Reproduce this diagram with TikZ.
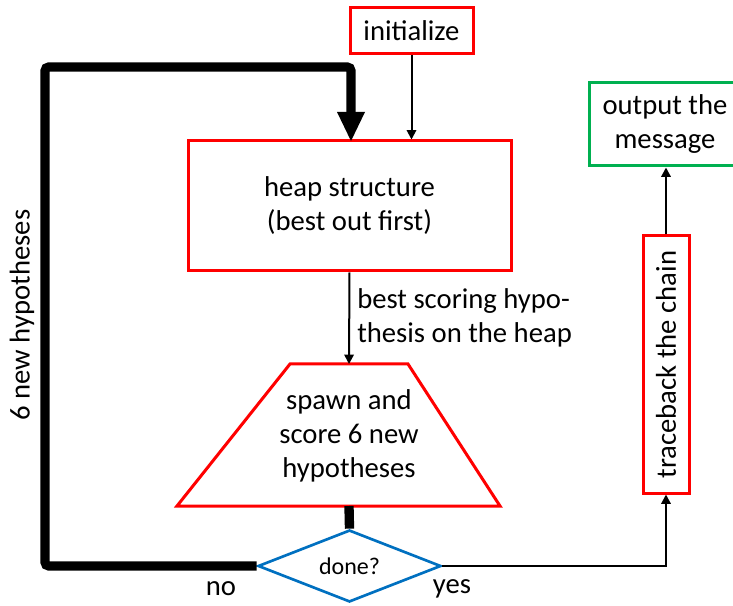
\documentclass[tikz,border=0pt]{standalone}
\usepackage{fontspec}
\setmainfont{Carlito}
\usetikzlibrary{shapes.geometric,arrows.meta}
\definecolor{cred}{RGB}{255,0,0}
\definecolor{cgreen}{RGB}{0,176,80}
\definecolor{cblue}{RGB}{0,112,192}
\tikzset{
  txt/.style={font=\fontsize{21.5}{25.5}\selectfont, align=center, inner sep=0pt},
  redbox/.style={txt, draw=cred, line width=2.25pt, rectangle},
  greenbox/.style={txt, draw=cgreen, line width=2.25pt, rectangle},
  thinarrow/.style={line width=1.5pt, -{Triangle[width=7pt,length=7pt]}},
  thickline/.style={line width=7pt, rounded corners=3pt},
}
\begin{document}
\begin{tikzpicture}[x=0.75pt,y=-0.75pt]
\useasboundingbox (0,0) rectangle (733,606);
% nodes
\node[redbox, minimum width=92.25pt, minimum height=34.5pt] (init) at (411.5,31) {initialize};
\node[redbox, minimum width=242.25pt, minimum height=97.5pt] (heap) at (349.5,206) {heap structure\\(best out first)};
\node[greenbox, minimum width=114pt, minimum height=62.25pt] (out) at (665,124.5) {output the\\message};
\node[redbox, rotate=90, minimum width=192.75pt, minimum height=34.5pt] (trace) at (666,364.5) {traceback the chain};
% trapezoid
\coordinate (tl) at (290,364);
\coordinate (tr) at (408,364);
\coordinate (br) at (500,506);
\coordinate (bl) at (177,506);
\coordinate (sptop) at (349,364);
\coordinate (spbot) at (349,506);
\draw[cred, line width=2.25pt, line join=miter] (tl) -- (tr) -- (br) -- (bl) -- cycle;
\node[txt] (spawn) at (349,436) {spawn and\\score 6 new\\hypotheses};
% diamond
\node[diamond, draw=cblue, line width=2pt, inner sep=0pt, minimum width=137.25pt, minimum height=54pt, aspect=2.5, font=\fontsize{18}{22}\selectfont] (done) at (349.5,566) {done?};
% labels
\node[txt, anchor=west, align=left] (lbl) at (357,318) {best scoring hypo-\\thesis on the heap};
\node[txt] (no) at (221,589) {no};
\node[txt] (yes) at (452,589) {yes};
\node[txt, rotate=90] (six) at (22,315) {6 new hypotheses};
% connectors
\coordinate (c1) at (45,566);
\coordinate (c2) at (45,67);
\coordinate (c3) at (351,67);
\coordinate (c4) at (351,141);
\coordinate (c4b) at (351,112);
\draw[thickline] (done.west) -- (c1) -- (c2) -- (c3) -- (c4b);
\fill (c4) -- ++(-14,-29) -- ++(28,0) -- cycle;
\draw[thinarrow] (init.south) -- (init.south |- heap.north);
\draw[thinarrow] (heap.south) -- (sptop);
\draw[line width=7pt] (spbot) -- (done.north);
\coordinate (c5) at (666,566);
\draw[thinarrow] (done.east) -- (c5) -- (trace.west);
\draw[thinarrow] (trace.east) -- (trace.east |- out.south);
\end{tikzpicture}
\end{document}
